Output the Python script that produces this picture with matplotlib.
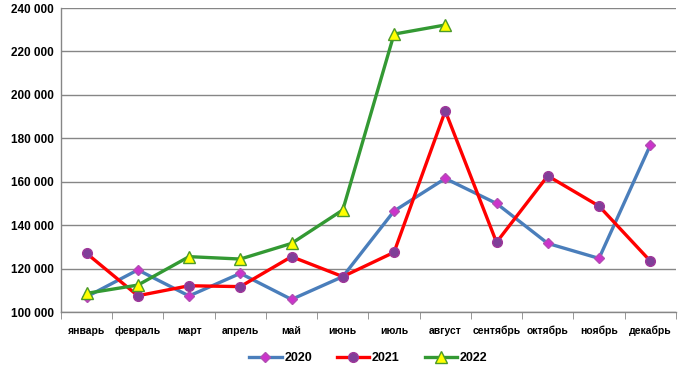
import numpy as np
import matplotlib.pyplot as plt
from matplotlib.ticker import FuncFormatter, FixedLocator

months = ['январь', 'февраль', 'март', 'апрель', 'май', 'июнь',
          'июль', 'август', 'сентябрь', 'октябрь', 'ноябрь', 'декабрь']
y2020 = [107000, 119400, 107400, 117800, 105800, 116300,
         146500, 161500, 150000, 131600, 124700, 176800]
y2021 = [127000, 107500, 112100, 111700, 125500, 116300,
         127500, 192600, 132100, 162700, 148800, 123500]
y2022 = [108600, 112400, 125500, 124400, 131600, 147000, 228000, 232200]

plt.rcParams['font.family'] = ['Liberation Sans', 'DejaVu Sans']

fig = plt.figure(figsize=(6.82, 3.66), dpi=100)
ax = fig.add_axes([0.0894, 0.1475, 0.9016, 0.8305])

x = np.arange(len(months))
ax.plot(x, y2020, color='#4a7ebb', lw=2.4, marker='D', ms=5.5,
        mfc='#cc33cc', mec='#b34db3', label='2020', zorder=3)
ax.plot(x, y2021, color='#ff0000', lw=2.4, marker='o', ms=7,
        mfc='#7f3f98', mec='#a0379a', label='2021', zorder=4)
ax.plot(x[:len(y2022)], y2022, color='#339933', lw=2.4, marker='^', ms=9,
        mfc='#ffff00', mec='#4c9a2a', mew=1, label='2022', zorder=5)

ax.set_xlim(-0.5, 11.5)
ax.set_ylim(100000, 240000)
ax.set_yticks(np.arange(100000, 240001, 20000))
ax.yaxis.set_major_formatter(FuncFormatter(lambda v, p: f'{int(v):,}'.replace(',', ' ')))
ax.set_xticks(x)
ax.set_xticklabels(months)
ax.xaxis.set_minor_locator(FixedLocator(np.arange(-0.5, 12, 1)))
ax.tick_params(axis='x', which='major', length=0, pad=10)
ax.tick_params(axis='x', which='minor', length=5, color='#868686')
ax.tick_params(axis='y', length=0, pad=5)
for lab in ax.get_xticklabels():
    lab.set_fontsize(7.5)
    lab.set_fontweight('bold')
for lab in ax.get_yticklabels():
    lab.set_fontsize(8.5)
    lab.set_fontweight('bold')

ax.grid(axis='y', color='#868686', lw=1)
ax.set_axisbelow(True)
for s in ['top', 'right']:
    ax.spines[s].set_visible(False)
for s in ['left', 'bottom']:
    ax.spines[s].set_color('#868686')
    ax.spines[s].set_linewidth(1)

leg = fig.legend(loc='lower center', ncol=3, frameon=False,
                 bbox_to_anchor=(0.54, -0.025), handlelength=2.6,
                 columnspacing=2.0, handletextpad=0.2,
                 prop={'size': 9, 'weight': 'bold'})

fig.savefig('out.png', dpi=100)
